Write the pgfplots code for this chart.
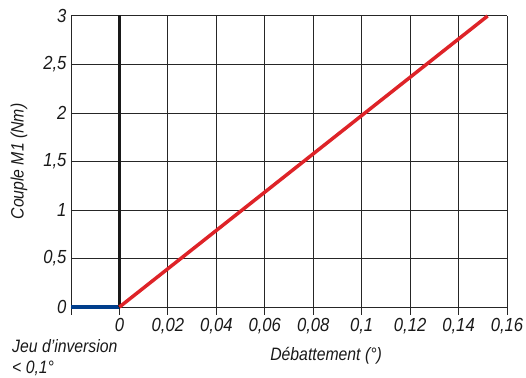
\documentclass[border=0pt]{standalone}
\usepackage{fontspec}
\setmainfont{Liberation Sans}[FakeStretch=0.88]
\usepackage{pgfplots}
\pgfplotsset{compat=1.18}
\definecolor{redl}{RGB}{222,35,40}
\definecolor{bluel}{RGB}{0,62,140}
\definecolor{txt}{RGB}{25,25,25}
\begin{document}
\begin{tikzpicture}
\begin{axis}[
  scale only axis,
  width=436bp, height=291bp,
  xmin=-0.02, xmax=0.16, ymin=0, ymax=3,
  axis lines*=left,
  axis line style={draw=black!85, line width=1pt},
  grid=major,
  grid style={draw=black!85, line width=1pt},
  xtick={-0.02,0,0.02,0.04,0.06,0.08,0.1,0.12,0.14,0.16},
  xticklabels={{},0,{0,02},{0,04},{0,06},{0,08},{0,1},{0,12},{0,14},{0,16}},
  ytick={0,0.5,1,1.5,2,2.5,3},
  yticklabels={0,{0,5},1,{1,5},2,{2,5},3},
  xtick align=outside,
  major tick length=8bp,
  xtick style={draw=black!85, line width=1pt},
  ytick style={draw=none},
  /pgf/number format/assume math mode=true,
  tick label style={font=\fontsize{19}{21}\selectfont\itshape, text=txt},
  yticklabel style={xshift=-1bp},
  xlabel={Débattement (°)},
  ylabel={Couple M1 (Nm)},
  label style={font=\fontsize{18}{20}\selectfont\itshape, text=txt},
  xlabel style={at={(axis description cs:0.585,0)}, anchor=north, yshift=-37bp},
  ylabel style={at={(axis description cs:-0.092,0.5)}, anchor=south},
  clip=false,
]
\addplot[draw=bluel, line width=3.5pt] coordinates {(-0.02,0) (0,0)};
\addplot[draw=black!90, line width=3.5pt] coordinates {(0,0) (0,3.01)};
\addplot[draw=redl, line width=3.5pt] coordinates {(0,0) (0.152,3)};
\end{axis}
\node[anchor=north west, align=left, inner sep=0pt, text=txt,
      font=\fontsize{18}{21}\selectfont\itshape]
  at ([xshift=-59bp,yshift=-32bp]current axis.south west) {Jeu d'inversion\\< 0,1°};
\pgfresetboundingbox
\useasboundingbox ([xshift=-71bp,yshift=-71bp]current axis.south west) rectangle ([xshift=19bp,yshift=16bp]current axis.north east);
\end{tikzpicture}
\end{document}
